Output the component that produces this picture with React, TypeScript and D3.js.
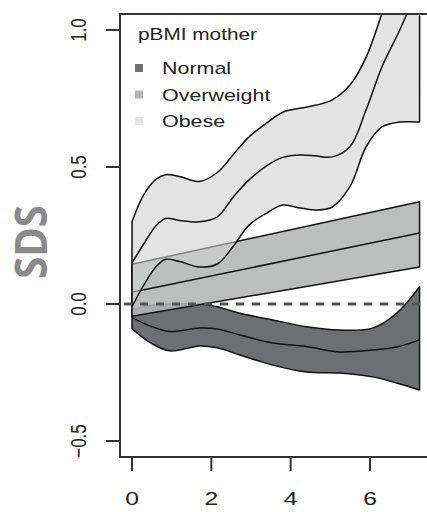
import React from "react";
import * as d3 from "d3";

// ---- data ----
const xTicks = [0, 2, 4, 6];
const yTicks = [-0.5, 0.0, 0.5, 1.0];
const yTickLabels = ["-0.5", "0.0", "0.5", "1.0"];
const legendTitle = "pBMI mother";
const groups = ["Normal", "Overweight", "Obese"];

const obeseX = [0, 0.3, 0.6, 0.85, 1.2, 1.7, 2.15, 2.55, 2.95, 3.4, 3.8, 4.25, 4.65, 5.05, 5.5, 5.9, 6.3, 6.75, 7.25];
const obeseUpper = [0.3, 0.4, 0.455, 0.472, 0.465, 0.447, 0.48, 0.545, 0.61, 0.661, 0.7, 0.715, 0.726, 0.745, 0.8, 0.9, 1.06, 1.25, 1.45];
const obeseMid = [0.15, 0.22, 0.285, 0.312, 0.305, 0.3, 0.318, 0.39, 0.453, 0.505, 0.535, 0.544, 0.54, 0.537, 0.575, 0.708, 0.865, 1.0, 1.17];
const obeseLower = [-0.01, 0.07, 0.135, 0.163, 0.155, 0.135, 0.146, 0.21, 0.288, 0.332, 0.361, 0.35, 0.343, 0.354, 0.43, 0.573, 0.646, 0.664, 0.664];

const overX = [0, 7.25];
const overUpper = [0.145, 0.373];
const overMid = [0.043, 0.259];
const overLower = [-0.045, 0.135];

const normalX = [0, 0.45, 0.95, 1.7, 2.15, 2.72, 3.55, 4.4, 5.23, 6.06, 6.67, 7.25];
const normalUpper = [-0.02, -0.005, 0.0, 0.0, -0.01, -0.034, -0.058, -0.083, -0.095, -0.088, -0.034, 0.063];
const normalMid = [-0.05, -0.08, -0.1, -0.088, -0.091, -0.113, -0.142, -0.155, -0.175, -0.168, -0.157, -0.131];
const normalLower = [-0.09, -0.14, -0.171, -0.153, -0.16, -0.186, -0.223, -0.248, -0.252, -0.266, -0.288, -0.314];

const groupColors = ["#6c7070", "#b6b8b8", "#e3e4e4"];

export default function App() {
  const W = 427, H = 512;
  const box = { left: 120, top: 14, right: 446, bottom: 457 };
  const x = d3.scaleLinear().domain([0, 6]).range([132, 370]);
  const y = d3.scaleLinear().domain([-0.5, 1.0]).range([441, 30]);

  const line = d3
    .line<[number, number]>()
    .x((d) => x(d[0]))
    .y((d) => y(d[1]))
    .curve(d3.curveCatmullRom.alpha(0.5));

  const pts = (xs: number[], ys: number[]) => xs.map((v, i) => [v, ys[i]] as [number, number]);

  const bandPath = (xs: number[], up: number[], lo: number[]) => {
    const a = line(pts(xs, up)) || "";
    const lowRev = pts(xs, lo).reverse();
    const b = line(lowRev) || "";
    return a + "L" + b.slice(1) + "Z";
  };

  const bands = [
    { xs: normalX, up: normalUpper, mid: normalMid, lo: normalLower, fill: groupColors[0], op: 1 },
    { xs: overX, up: overUpper, mid: overMid, lo: overLower, fill: "#b3b5b5", op: 0.88 },
    { xs: obeseX, up: obeseUpper, mid: obeseMid, lo: obeseLower, fill: "#d0d1d1", op: 0.6 },
  ];

  const font = "'Liberation Sans', Arial, Helvetica, sans-serif";
  const sx = 1.3;

  return (
    <svg width={W} height={H} style={{ display: "block", position: "absolute", left: 0, top: 0 }}>
      <rect width={W} height={H} fill="#fff" />
      <defs>
        <clipPath id="plot">
          <rect x={box.left} y={box.top} width={box.right - box.left} height={box.bottom - box.top} />
        </clipPath>
      </defs>
      <g clipPath="url(#plot)">
        {bands.map((b, i) => (
          <g key={i}>
            <path d={bandPath(b.xs, b.up, b.lo)} fill={b.fill} fillOpacity={b.op} stroke="#111" strokeWidth={1.5} strokeLinejoin="round" />
            <path d={line(pts(b.xs, b.mid)) || ""} fill="none" stroke="#111" strokeWidth={1.5} />
          </g>
        ))}
        <line x1={box.left} x2={box.right} y1={y(0)} y2={y(0)} stroke="#555" strokeWidth={3} strokeDasharray="8,8" strokeDashoffset={-4} />
      </g>
      {/* box */}
      <rect x={box.left} y={box.top} width={box.right - box.left} height={box.bottom - box.top} fill="none" stroke="#333" strokeWidth={2} />
      {/* y ticks */}
      {yTicks.map((t, i) => (
        <g key={t}>
          <line x1={106} x2={box.left} y1={y(t)} y2={y(t)} stroke="#333" strokeWidth={2} />
          <text
            transform={`translate(86,${y(t)}) scale(${sx},1) rotate(-90)`}
            textAnchor="middle"
            fontFamily={font}
            fontSize={17}
            fill="#222"
          >
            {yTickLabels[i].replace("-", "\u2212")}
          </text>
        </g>
      ))}
      {/* x ticks */}
      {xTicks.map((t) => (
        <g key={t}>
          <line x1={x(t)} x2={x(t)} y1={box.bottom} y2={471} stroke="#333" strokeWidth={2} />
          <text
            transform={`translate(${x(t)},505) scale(${sx},1)`}
            textAnchor="middle"
            fontFamily={font}
            fontSize={19}
            fill="#222"
          >
            {t}
          </text>
        </g>
      ))}
      {/* SDS label */}
      <text
        transform={`translate(47,242) scale(1.1,1) rotate(-90)`}
        textAnchor="middle"
        fontFamily="'Open Sans', 'Liberation Sans', sans-serif"
        fontWeight="bold"
        fontSize={40}
        fill="#8a8a8a"
      >
        SDS
      </text>
      {/* legend */}
      <text transform={`translate(138,40) scale(${sx},1)`} fontFamily={font} fontSize={16} fill="#222">
        {legendTitle}
      </text>
      {groups.map((g, i) => (
        <g key={g}>
          <rect x={135} y={64 + i * 26.5} width={8} height={8} fill={groupColors[i]} />
          <text transform={`translate(162,${74 + i * 26.5}) scale(${sx},1)`} fontFamily={font} fontSize={16.5} fill="#222">
            {g}
          </text>
        </g>
      ))}
    </svg>
  );
}
